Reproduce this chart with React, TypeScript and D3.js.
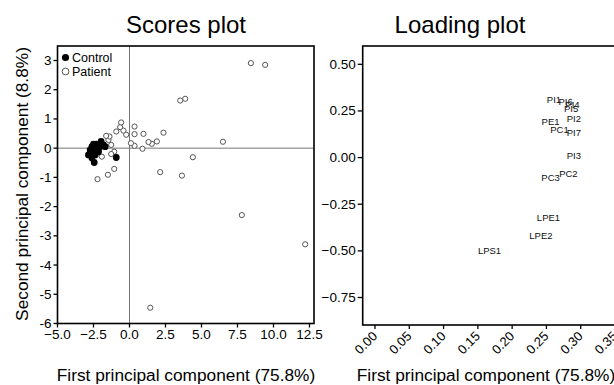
import React from "react";
import * as d3 from "d3";

// scores plot data (PC1, PC2)
const controlX = [-0.92, -2.85, -2.73, -2.61, -2.5, -2.31, -2.61, -2.45, -2.38, -2.26, -2.08, -1.97, -1.81, -1.69, -2.15, -2.54, -2.73];
const controlY = [-0.32, -0.23, -0.06, 0.05, 0.14, 0.14, -0.34, -0.49, -0.23, -0.06, 0.03, 0.23, 0.11, 0.05, -0.12, -0.04, -0.17];

const patientX = [8.43, 9.42, 3.52, 3.87, 6.49, 4.4, 3.64, 7.8, 12.2, 1.44, 2.13, 2.36, 1.9, 1.55, 1.32, 0.9, 0.97, 0.35, 0.35, 0.35, 0.1, -0.23, -0.42, -0.65, -0.58, -0.92, -1.06, -1.06, -1.27, -1.27, -1.46, -1.39, -1.62, -1.5, -1.92, -2.22];
const patientY = [2.91, 2.85, 1.63, 1.69, 0.22, -0.31, -0.94, -2.29, -3.29, -5.46, -0.82, 0.53, 0.23, 0.15, 0.21, -0.02, 0.49, 0.74, 0.48, 0.08, 0.17, 0.46, 0.6, 0.72, 0.88, 0.57, -0.12, -0.71, -0.2, 0.11, 0.28, 0.4, 0.42, -0.91, -0.29, -1.06];

const scoreXTicks = [-5, -2.5, 0, 2.5, 5, 7.5, 10, 12.5];
const scoreYTicks = [3, 2, 1, 0, -1, -2, -3, -4, -5, -6];

// loading plot data
const lipids = ["PI1", "PI6", "PI4", "PI5", "PI2", "PE1", "PC1", "PI7", "PI3", "PC2", "PC3", "LPE1", "LPE2", "LPS1"];
const loadX = [0.261, 0.278, 0.288, 0.286, 0.29, 0.256, 0.269, 0.29, 0.29, 0.282, 0.256, 0.253, 0.242, 0.167];
const loadY = [0.309, 0.3, 0.282, 0.261, 0.206, 0.19, 0.148, 0.134, 0.011, -0.089, -0.11, -0.321, -0.419, -0.499];

const loadXTicks = [0, 0.05, 0.1, 0.15, 0.2, 0.25, 0.3, 0.35];
const loadYTicks = [0.5, 0.25, 0, -0.25, -0.5, -0.75];

const FONT = "'Liberation Sans', Arial, sans-serif";

export default function App() {
  // scores plot
  const sx = d3.scaleLinear().domain([-5, 12.5]).range([57.5, 309.5]);
  const sy = d3.scaleLinear().domain([-6, 3]).range([323.5, 60.5]);
  const sLeft = 57.5, sRight = 314, sTop = 46, sBottom = 323.5;

  // loading plot
  const lx = d3.scaleLinear().domain([0, 0.35]).range([375, 615]);
  const ly = d3.scaleLinear().domain([-0.75, 0.5]).range([297.5, 64.3]);
  const lLeft = 362.7, lRight = 650, lTop = 46, lBottom = 325;

  return (
    <svg width={614} height={385} style={{ position: "absolute", left: 0, top: 0, background: "#fff" }} fontFamily={FONT}>
      <rect width={614} height={385} fill="#fff" />

      {/* ---------- Scores plot ---------- */}
      <text x={186} y={33} fontSize={24} textAnchor="middle">Scores plot</text>
      <line x1={sx(0)} x2={sx(0)} y1={sTop} y2={sBottom} stroke="#777" strokeWidth={1} />
      <line x1={sLeft} x2={sRight} y1={sy(0)} y2={sy(0)} stroke="#777" strokeWidth={1} />
      <rect x={sLeft} y={sTop} width={sRight - sLeft} height={sBottom - sTop} fill="none" stroke="#000" strokeWidth={1.6} />

      {scoreXTicks.map(t => (
        <g key={"sx" + t}>
          <line x1={sx(t)} x2={sx(t)} y1={sBottom} y2={sBottom + 4} stroke="#000" strokeWidth={1.3} />
          <text x={sx(t)} y={sBottom + 15} fontSize={13.5} textAnchor="middle">{d3.format(".1f")(t)}</text>
        </g>
      ))}
      {scoreYTicks.map(t => (
        <g key={"sy" + t}>
          <line x1={sLeft - 4} x2={sLeft} y1={sy(t)} y2={sy(t)} stroke="#000" strokeWidth={1.3} />
          <text x={sLeft - 6} y={sy(t) + 4.5} fontSize={13.5} textAnchor="end">{t}</text>
        </g>
      ))}

      {patientX.map((x, i) => (
        <circle key={"p" + i} cx={sx(x)} cy={sy(patientY[i])} r={2.6} fill="#fff" stroke="#555" strokeWidth={1} />
      ))}
      {controlX.map((x, i) => (
        <circle key={"c" + i} cx={sx(x)} cy={sy(controlY[i])} r={3.4} fill="#000" />
      ))}

      {/* legend */}
      <circle cx={65.5} cy={57.5} r={3.6} fill="#000" />
      <text x={72} y={62} fontSize={12.5}>Control</text>
      <circle cx={65.5} cy={71.5} r={3.4} fill="#fff" stroke="#555" strokeWidth={1} />
      <text x={72} y={76} fontSize={12.5}>Patient</text>

      <text x={186} y={381} fontSize={17.3} textAnchor="middle">First principal component (75.8%)</text>
      <text transform="translate(28,184) rotate(-90)" fontSize={17.3} textAnchor="middle">Second principal component (8.8%)</text>

      {/* ---------- Loading plot ---------- */}
      <text x={460} y={33} fontSize={24} textAnchor="middle">Loading plot</text>
      <rect x={lLeft} y={lTop} width={lRight - lLeft} height={lBottom - lTop} fill="none" stroke="#000" strokeWidth={1.6} />

      {loadYTicks.map(t => (
        <g key={"ly" + t}>
          <line x1={lLeft - 5} x2={lLeft} y1={ly(t)} y2={ly(t)} stroke="#000" strokeWidth={1.3} />
          <text x={lLeft - 7} y={ly(t) + 4.5} fontSize={13.5} textAnchor="end">{d3.format(".2f")(t)}</text>
        </g>
      ))}
      {loadXTicks.map(t => (
        <g key={"lx" + t}>
          <line x1={lx(t)} x2={lx(t)} y1={lBottom} y2={lBottom + 4} stroke="#000" strokeWidth={1.3} />
          <text transform={`translate(${lx(t) + 3},${lBottom + 12}) rotate(-45)`} fontSize={13} textAnchor="end">{d3.format(".2f")(t)}</text>
        </g>
      ))}

      {lipids.map((name, i) => (
        <text key={name} x={lx(loadX[i])} y={ly(loadY[i]) + 3.3} fontSize={9.5} textAnchor="middle" fill="#111">{name}</text>
      ))}

      <text x={486} y={381} fontSize={17.3} textAnchor="middle">First principal component (75.8%)</text>
    </svg>
  );
}
